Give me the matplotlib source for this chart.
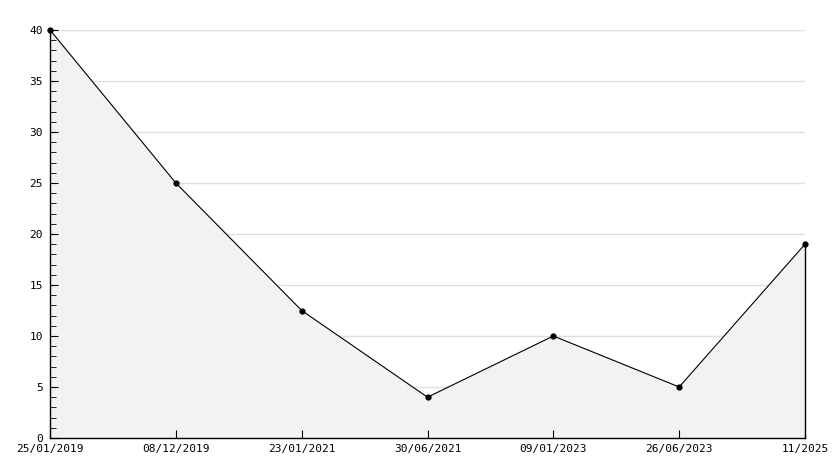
import numpy as np
import matplotlib.pyplot as plt
from matplotlib.ticker import MultipleLocator

# data
dates = ["25/01/2019", "08/12/2019", "23/01/2021", "30/06/2021",
         "09/01/2023", "26/06/2023", "11/2025"]
values = [40, 25, 12.5, 4, 10, 5, 19]

x = np.arange(len(dates))

fig = plt.figure(figsize=(8.34, 4.68), dpi=100)
ax = fig.add_axes([50 / 834, 30 / 468, 755 / 834, 408 / 468])

# horizontal grid lines sit under the filled area
for gy in range(5, 45, 5):
    ax.axhline(gy, color="#e0e0e0", lw=1, zorder=0)

ax.fill_between(x, values, 0, color="#f2f2f2", zorder=1)
ax.plot([x[-1], x[-1]], [0, values[-1]], color="black", lw=1, zorder=2, clip_on=False)
ax.plot(x, values, color="black", lw=0.8, marker="o", markersize=3.5, zorder=3, clip_on=False)

ax.set_xlim(0, len(dates) - 1)
ax.set_ylim(0, 40)
ax.set_xticks(x)
ax.set_xticklabels(dates)
ax.yaxis.set_major_locator(MultipleLocator(5))
ax.yaxis.set_minor_locator(MultipleLocator(1))

for s in ["top", "right"]:
    ax.spines[s].set_visible(False)
for s in ["left", "bottom"]:
    ax.spines[s].set_color("black")
    ax.spines[s].set_linewidth(1)

ax.tick_params(axis="both", which="both", direction="in", labelsize=8, colors="black")
ax.tick_params(axis="y", which="major", length=6, pad=5)
ax.tick_params(axis="y", which="minor", length=4)
ax.tick_params(axis="x", length=6, pad=4)
for lab in ax.get_xticklabels() + ax.get_yticklabels():
    lab.set_fontfamily("DejaVu Sans Mono")

fig.savefig("out.png", dpi=100)
